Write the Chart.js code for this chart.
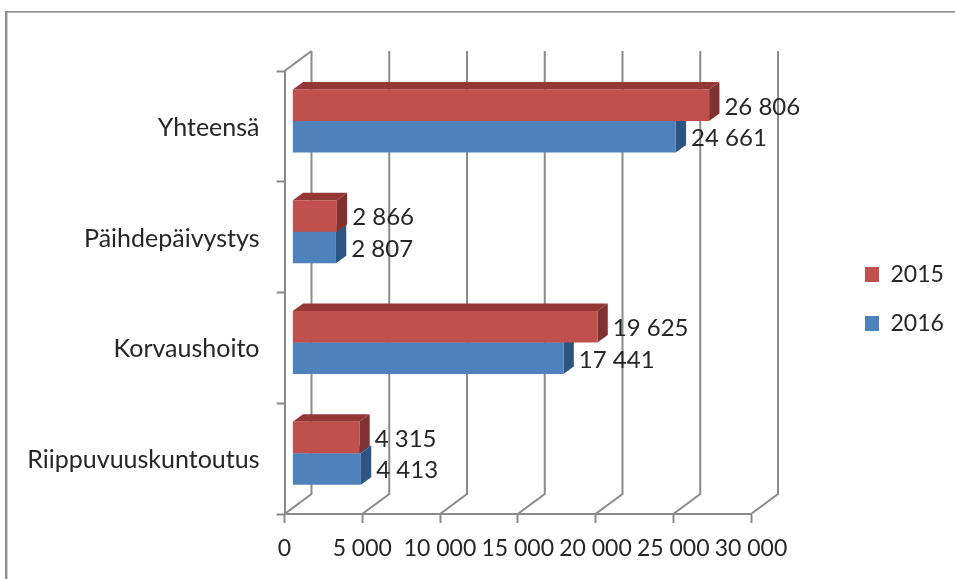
<!DOCTYPE html>
<html>
<head>
<meta charset="utf-8">
<style>html,body{margin:0;padding:0;background:#fff}canvas{display:block}</style>
<script src="https://cdn.jsdelivr.net/npm/chart.js@4"></script>
</head>
<body>
<canvas id="c" width="955" height="579"></canvas>
<script>
const categories = ["Yhteensä", "Päihdepäivystys", "Korvaushoito", "Riippuvuuskuntoutus"];
const series2015 = [26806, 2866, 19625, 4315];
const series2016 = [24661, 2807, 17441, 4413];
const seriesNames = ["2015", "2016"];
const xTicks = [0, 5000, 10000, 15000, 20000, 25000, 30000];

const FONT = "Lato";
const TEXT = "#262626";
const LINE = "#8a8a8a";
const fmt = v => String(v).replace(/\B(?=(\d{3})+$)/g, " ");

const wall = {dx: 27, dy: -20};
const barShift = {dx: 7.8, dy: -5.3};
const depth = {dx: 10.3, dy: -7.6};
const shades = [{top: "#953735", side: "#7F322F"}, {top: "#2F5480", side: "#2F5480"}];

const chart3d = {
  id: "chart3d",
  beforeLayout(chart) {
    const lg = chart.legend;
    if (lg && !lg._wrapped) {
      const fit = lg.fit.bind(lg);
      lg.fit = function () { fit(); this.width = 204; };
      lg._wrapped = true;
    }
  },
  afterLayout(chart) {
    const lg = chart.legend;
    const p = lg.options.labels.padding;
    lg.left = 865 - p;
    lg.right = lg.left + 204;
    lg.top = 263 - p;
    lg.bottom = lg.top + lg.height;
  },
  beforeDraw(chart) {
    const c = chart.ctx;
    c.save();
    c.fillStyle = "#8c8c8c";
    c.fillRect(5, 11, 950, 1.6);
    c.fillRect(5, 11, 2.4, 568);
    c.restore();
  },
  beforeDatasetsDraw(chart) {
    const c = chart.ctx, xs = chart.scales.x, ys = chart.scales.y;
    const top = ys.top, bottom = ys.bottom;
    c.save();
    c.strokeStyle = LINE;
    c.lineWidth = 2;
    c.lineJoin = "miter";
    xTicks.forEach(v => {
      const x = xs.getPixelForValue(v);
      c.beginPath();
      c.moveTo(x, bottom);
      c.lineTo(x + wall.dx, bottom + wall.dy);
      c.lineTo(x + wall.dx, top + wall.dy);
      c.stroke();
    });
    c.beginPath();
    c.moveTo(xs.left, top);
    c.lineTo(xs.left + wall.dx, top + wall.dy);
    c.stroke();
    c.restore();

    c.save();
    c.translate(barShift.dx, barShift.dy);
    [1, 0].forEach(d => {
      const meta = chart.getDatasetMeta(d);
      meta.data.forEach(el => {
        const t = el.y - el.height / 2, b = el.y + el.height / 2, r = el.x, l = el.base;
        c.fillStyle = shades[d].top;
        c.beginPath();
        c.moveTo(l, t);
        c.lineTo(l + depth.dx, t + depth.dy);
        c.lineTo(r + depth.dx, t + depth.dy);
        c.lineTo(r, t);
        c.closePath();
        c.fill();
        c.fillStyle = shades[d].side;
        c.beginPath();
        c.moveTo(r, t);
        c.lineTo(r + depth.dx, t + depth.dy);
        c.lineTo(r + depth.dx, b + depth.dy);
        c.lineTo(r, b);
        c.closePath();
        c.fill();
      });
    });
  },
  afterDatasetsDraw(chart) {
    const c = chart.ctx;
    c.restore();
    c.save();
    c.font = "24px " + FONT;
    c.fillStyle = TEXT;
    c.textAlign = "left";
    c.textBaseline = "middle";
    [0, 1].forEach(d => {
      const meta = chart.getDatasetMeta(d);
      meta.data.forEach((el, i) => {
        const v = chart.data.datasets[d].data[i];
        c.fillText(fmt(v), el.x + barShift.dx + depth.dx + 5, el.y + barShift.dy + 1.5);
      });
    });
    c.restore();
  }
};

new Chart(document.getElementById("c"), {
  type: "bar",
  plugins: [chart3d],
  data: {
    labels: categories,
    datasets: [
      {label: seriesNames[0], data: series2015, backgroundColor: "#C0504D", barPercentage: 1, categoryPercentage: 0.569},
      {label: seriesNames[1], data: series2016, backgroundColor: "#4F81BD", barPercentage: 1, categoryPercentage: 0.569}
    ]
  },
  options: {
    indexAxis: "y",
    responsive: false,
    devicePixelRatio: 1,
    animation: false,
    layout: {padding: {top: 71, left: 0, right: 0, bottom: 0}},
    plugins: {
      tooltip: {enabled: false},
      title: {display: false},
      legend: {
        position: "right",
        align: "start",
        labels: {
          boxWidth: 14, boxHeight: 15, padding: 26,
          color: TEXT,
          font: {family: FONT, size: 23}
        }
      }
    },
    scales: {
      x: {
        type: "linear", min: 0, max: 30000,
        afterFit(s) { s.height = 65; },
        afterBuildTicks(s) { s.ticks = xTicks.map(v => ({value: v})); },
        grid: {drawOnChartArea: false, drawTicks: true, tickLength: 9, tickWidth: 2, tickColor: LINE},
        border: {display: true, color: LINE, width: 2},
        ticks: {autoSkip: false, maxRotation: 0, minRotation: 0, padding: 12, color: TEXT,
                font: {family: FONT, size: 23}, callback: v => fmt(v)}
      },
      y: {
        type: "category", offset: true,
        afterFit(s) { s.width = 284.5; },
        grid: {offset: true, drawOnChartArea: false, drawTicks: true, tickLength: 8, tickWidth: 2, tickColor: LINE},
        border: {display: true, color: LINE, width: 2},
        ticks: {autoSkip: false, padding: 17, labelOffset: 1.5, color: TEXT, font: {family: FONT, size: 25}}
      }
    }
  }
});
</script>
</body>
</html>
